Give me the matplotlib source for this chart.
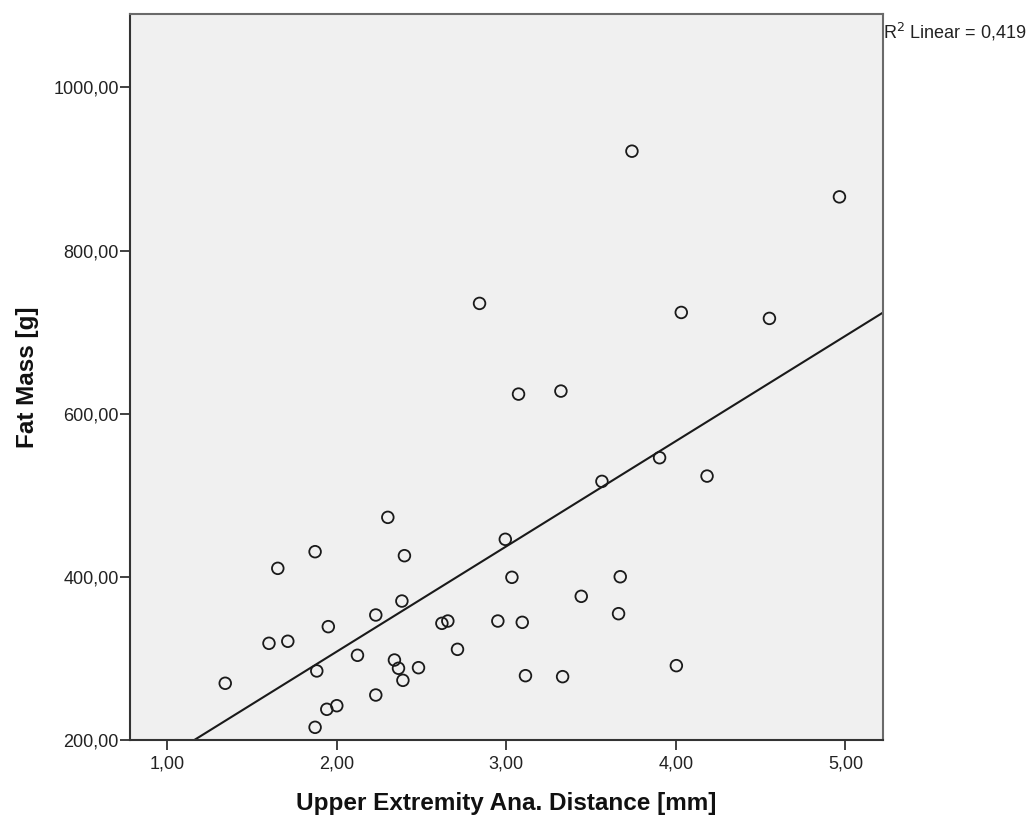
import numpy as np
import matplotlib
matplotlib.use("Agg")
import matplotlib.pyplot as plt

# Upper extremity anatomical distance [mm] vs. fat mass [g]
distance_mm = [
    1.342, 1.600, 1.711, 1.652, 1.872, 1.950, 1.882, 1.872, 1.941, 2.000,
    2.230, 2.230, 2.122, 2.301, 2.399, 2.384, 2.340, 2.364, 2.390, 2.482,
    2.620, 2.655, 2.712, 2.994, 3.033, 2.950, 3.094, 3.113, 3.332, 3.442,
    3.672, 3.662, 4.003, 2.842, 4.032, 3.072, 3.322, 3.904, 3.564, 4.184,
    3.741, 4.965, 4.552,
]
fat_mass_g = [
    269.5, 318.5, 321.0, 410.4, 430.8, 338.9, 284.6, 215.5, 237.6, 242.0,
    353.2, 255.1, 303.8, 472.9, 425.9, 370.3, 298.0, 287.9, 273.1, 288.6,
    343.0, 345.8, 311.1, 446.0, 399.4, 345.8, 344.2, 278.8, 277.6, 376.1,
    400.1, 354.8, 291.1, 735.2, 724.1, 624.0, 627.7, 546.0, 517.0, 523.5,
    921.8, 865.8, 716.8,
]
r2_linear = 0.419

x_ticks = [1.0, 2.0, 3.0, 4.0, 5.0]
y_ticks = [200.0, 400.0, 600.0, 800.0, 1000.0]
x_limits = (0.78, 5.22)
y_limits = (200.0, 1090.0)

FONT = ["Liberation Sans", "DejaVu Sans"]
plt.rcParams["font.family"] = FONT


def comma_fmt(v):
    return f"{v:.2f}".replace(".", ",")


fig = plt.figure(figsize=(10.29, 8.18), dpi=100)
ax = fig.add_axes([0.1263, 0.0954, 0.7315, 0.8875])
ax.set_facecolor("#f0f0f0")

x = np.array(distance_mm)
y = np.array(fat_mass_g)

ax.scatter(x, y, s=70, facecolors="none", edgecolors="#1a1a1a",
           linewidths=1.3, zorder=3, clip_on=False)

# Least-squares fit line across the full x range
slope, intercept = np.polyfit(x, y, 1)
xx = np.array(x_limits)
ax.plot(xx, intercept + slope * xx, color="#1a1a1a", linewidth=1.5, zorder=2)

ax.set_xlim(*x_limits)
ax.set_ylim(*y_limits)
ax.set_xticks(x_ticks)
ax.set_yticks(y_ticks)
ax.set_xticklabels([comma_fmt(v) for v in x_ticks])
ax.set_yticklabels([comma_fmt(v) for v in y_ticks])
ax.tick_params(axis="both", direction="out", length=7, width=1.3,
               color="#333333", labelsize=13, labelcolor="#222222")
ax.tick_params(axis="x", pad=4)
ax.tick_params(axis="y", pad=1)

for side in ("left", "bottom"):
    ax.spines[side].set_color("#333333")
    ax.spines[side].set_linewidth(1.5)
for side in ("top", "right"):
    ax.spines[side].set_color("#6a6a6a")
    ax.spines[side].set_linewidth(1.5)

ax.set_xlabel("Upper Extremity Ana. Distance [mm]", fontsize=17.5,
              fontweight="bold", labelpad=14, color="#111111")
ax.set_ylabel("Fat Mass [g]", fontsize=17.5, fontweight="bold",
              labelpad=10, color="#111111")

ax.text(1.0, 0.99, "R$^2$ Linear = " + f"{r2_linear:.3f}".replace(".", ","),
        transform=ax.transAxes, ha="left", va="top", fontsize=13,
        color="#222222")

fig.savefig("out.png", dpi=100)
